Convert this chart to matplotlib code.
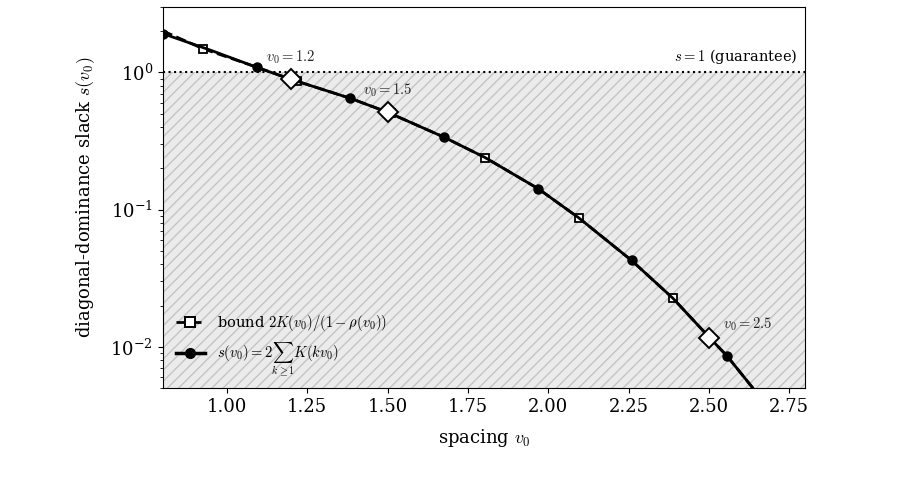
import matplotlib
matplotlib.use('Agg')
import matplotlib.pyplot as plt

# s(v0) = 2 * sum_k K(k v0)
s_v = [0.80, 0.95, 1.094, 1.20, 1.384, 1.50, 1.675, 1.803, 1.969, 2.094,
       2.259, 2.388, 2.503, 2.556, 2.64]
s_val = [1.92, 1.45, 1.087, 0.89, 0.648, 0.513, 0.338, 0.240, 0.142, 0.0875,
         0.0427, 0.0226, 0.0116, 0.0086, 0.0049]

# circle markers along s(v0)
dot_v = [0.80, 1.094, 1.384, 1.675, 1.969, 2.259, 2.556]
dot_s = [1.92, 1.087, 0.648, 0.338, 0.142, 0.0427, 0.0086]

# bound 2K(v0)/(1-rho(v0)); joins s(v0) from about v0 = 1.1
bound_v = [0.80, 0.925, 1.094, 1.20, 1.384, 1.50, 1.675, 1.803, 1.969, 2.094,
           2.259, 2.388, 2.503, 2.556, 2.64]
bound_s = [2.01, 1.49, 1.09, 0.89, 0.648, 0.513, 0.338, 0.240, 0.142, 0.0875,
           0.0427, 0.0226, 0.0116, 0.0086, 0.0049]
sq_v = [0.925, 1.219, 1.51, 1.803, 2.094, 2.388]
sq_s = [1.49, 0.87, 0.505, 0.240, 0.0875, 0.0226]

# highlighted spacings
hl_v = [1.2, 1.5, 2.5]
hl_s = [0.89, 0.513, 0.0116]
hl_text = [r'$v_0=1.2$', r'$v_0=1.5$', r'$v_0=2.5$']

plt.rcParams['font.family'] = ['DejaVu Serif']
plt.rcParams['mathtext.fontset'] = 'cm'

fig = plt.figure(figsize=(9.09, 4.99), dpi=100)
ax = fig.add_axes([0.179, 0.222, 0.707, 0.764])
ax.set_xlim(0.8, 2.8)
ax.set_ylim(5e-3, 3)
ax.set_yscale('log')

# region below the guarantee
ax.fill_between([0.8, 2.8], 5e-3, 1.0, facecolor='#ebebeb', edgecolor='#c4c4c4',
                hatch='///', linewidth=0, zorder=0)
ax.axhline(1.0, color='black', linestyle=':', linewidth=1.5, zorder=1)
ax.text(2.775, 1.12, r'$s=1$ (guarantee)', ha='right', va='bottom', fontsize=10.5)

ax.plot(bound_v, bound_s, color='black', linestyle='--', linewidth=2, zorder=2)
ax.plot(sq_v, sq_s, linestyle='none', marker='s', markersize=6,
        markerfacecolor='white', markeredgecolor='black', markeredgewidth=1.3, zorder=2)
ax.plot([], [], color='black', linestyle='--', linewidth=2, marker='s', markersize=6.5,
        markerfacecolor='white', markeredgecolor='black', markeredgewidth=1.4,
        label=r'bound $2K(v_0)/(1-\rho(v_0))$')

ax.plot(s_v, s_val, color='black', linewidth=2, zorder=3)
ax.plot(dot_v, dot_s, linestyle='none', marker='o', markersize=6.5, color='black', zorder=3)
ax.plot([], [], color='black', linewidth=2.5, marker='o', markersize=7,
        label=r'$s(v_0)=2\sum_{k\geq1}K(kv_0)$')

ax.plot(hl_v, hl_s, linestyle='none', marker='D', markersize=10,
        markerfacecolor='white', markeredgecolor='black', markeredgewidth=1.4, zorder=4)
offsets = [(0, 16), (0, 16), (28, 10)]
for v, s, t, off in zip(hl_v, hl_s, hl_text, offsets):
    ax.annotate(t, (v, s), xytext=off, textcoords='offset points',
                ha='center', va='center', fontsize=10.5, color='#222222')

ax.set_xticks([1.00, 1.25, 1.50, 1.75, 2.00, 2.25, 2.50, 2.75])
ax.set_xticklabels(['1.00', '1.25', '1.50', '1.75', '2.00', '2.25', '2.50', '2.75'])
ax.tick_params(axis='both', which='major', labelsize=13)
ax.set_xlabel(r'spacing $v_0$', fontsize=13, labelpad=8)
ax.set_ylabel(r'diagonal-dominance slack $s(v_0)$', fontsize=13, labelpad=10)

ax.legend(loc='lower left', frameon=False, fontsize=10.5, handlelength=2.0,
          borderaxespad=0.5, bbox_to_anchor=(0.0, -0.01))

fig.savefig('out.png', dpi=100)
